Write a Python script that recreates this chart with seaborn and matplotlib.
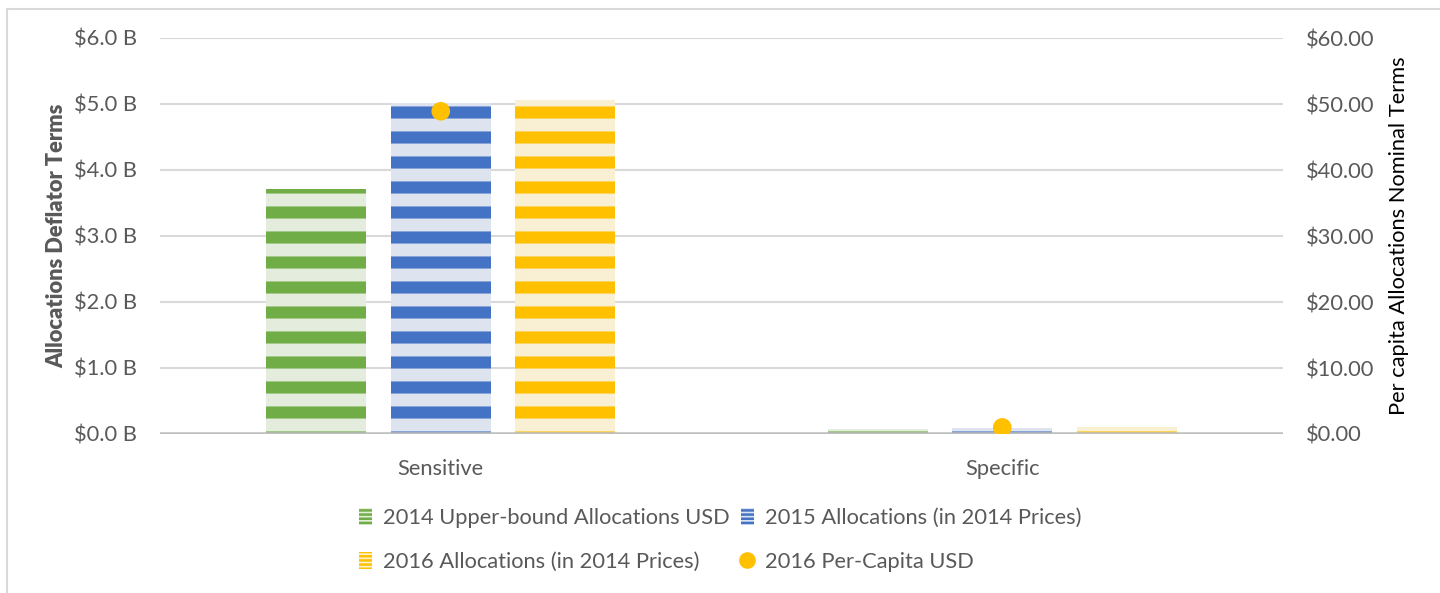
import numpy as np
import pandas as pd
import matplotlib
matplotlib.use('Agg')
import matplotlib.pyplot as plt
import seaborn as sns
from matplotlib.patches import Patch
from matplotlib.lines import Line2D
from matplotlib.ticker import FuncFormatter, MultipleLocator

# Data
categories = ['Sensitive', 'Specific']
series_names = ['2014 Upper-bound Allocations USD',
                '2015 Allocations (in 2014 Prices)',
                '2016 Allocations (in 2014 Prices)']
alloc_2014 = [3.71, 0.07]   # billions USD
alloc_2015 = [5.02, 0.09]
alloc_2016 = [5.06, 0.11]
per_capita_2016 = [48.9, 1.0]  # USD per capita
dot_name = '2016 Per-Capita USD'

dark_colors = ['#70AD47', '#4472C4', '#FFC000']
light_colors = ['#E2EFDA', '#DAE3F3', '#FFF2CC']
text_gray = '#595959'

df = pd.DataFrame({
    'category': categories * 3,
    'series': [s for s in series_names for _ in categories],
    'value': alloc_2014 + alloc_2015 + alloc_2016,
})

sns.set_theme(style='white')
plt.rcParams['font.family'] = ['Lato', 'DejaVu Sans']
plt.rcParams['hatch.linewidth'] = 5.8

fig = plt.figure(figsize=(9.6, 593 / 150), dpi=150)
ax = fig.add_axes([160 / 1440, 1 - 434 / 593, 1123 / 1440, 396 / 593])

sns.barplot(data=df, x='category', y='value', hue='series',
            palette=light_colors, width=0.665, gap=0.2,
            legend=False, ax=ax, zorder=2)
for cont, dc in zip(ax.containers, dark_colors):
    for bar in cont:
        bar.set_hatch('-')
        bar.set_edgecolor(dc)
        bar.set_linewidth(0)

ax.set_xlim(-0.5, 1.5)
ax.set_ylim(0, 6)
ax.yaxis.set_major_locator(MultipleLocator(1))
ax.yaxis.set_major_formatter(FuncFormatter(lambda v, p: f'${v:.1f} B'))
ax.grid(axis='y', color='#D9D9D9', linewidth=1.0, zorder=0)
ax.set_axisbelow(True)
ax.axhline(0, color='#BFBFBF', linewidth=1.7, zorder=3)
for s in ax.spines.values():
    s.set_visible(False)
ax.tick_params(axis='y', length=0, pad=11, labelsize=10.5, labelcolor=text_gray)
ax.tick_params(axis='x', length=0, pad=12, labelsize=10.5, labelcolor=text_gray)
ax.set_xlabel('')
ax.set_ylabel('Allocations Deflator Terms', fontsize=10.5, fontweight='heavy',
              color=text_gray, labelpad=3)

ax2 = ax.twinx()
sns.scatterplot(x=np.arange(len(categories)), y=per_capita_2016, ax=ax2,
                color='#FFC000', s=80, edgecolor='none', zorder=5)
ax2.set_ylim(0, 60)
ax2.yaxis.set_major_locator(MultipleLocator(10))
ax2.yaxis.set_major_formatter(FuncFormatter(lambda v, p: f'${v:.2f}'))
for s in ax2.spines.values():
    s.set_visible(False)
ax2.tick_params(axis='y', length=0, pad=11, labelsize=10.5, labelcolor=text_gray)
ax2.set_ylabel('Per capita Allocations Nominal Terms', fontsize=10.5,
               color='black', labelpad=7)
ax2.grid(False)

# legend with finer stripes on the handles
plt.rcParams['hatch.linewidth'] = 1.2
handles = [Patch(facecolor=lc, edgecolor=dc, linewidth=0, hatch='------')
           for lc, dc in zip(light_colors, dark_colors)]
handles.append(Line2D([], [], marker='o', linestyle='none', color='#FFC000',
                      markersize=7))
labels = series_names + [dot_name]
order = [0, 2, 1, 3]
fig.legend([handles[i] for i in order], [labels[i] for i in order],
           loc='center', bbox_to_anchor=(0.5, 1 - 540 / 593), ncol=2,
           frameon=False, fontsize=10.5, labelcolor=text_gray,
           handlelength=0.6, handleheight=0.8, handletextpad=0.5,
           columnspacing=0.5, labelspacing=1.1)

# light chart border (top and left edges)
fig.add_artist(Line2D([7 / 1440, 7 / 1440, 1], [0, 1 - 9 / 593, 1 - 9 / 593],
                      transform=fig.transFigure, color='#D9D9D9', linewidth=1.0))

fig.savefig('out.png', dpi=150)
